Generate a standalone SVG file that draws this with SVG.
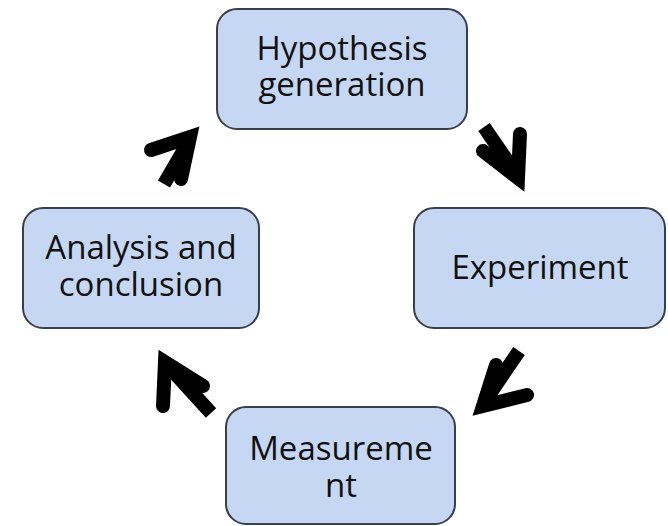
<svg xmlns="http://www.w3.org/2000/svg" width="668" height="526" viewBox="0 0 668 526">
<style>
.box{fill:#c6d7f3;stroke:#3a3f4c;stroke-width:2}
.t{font-family:"Open Sans","Noto Sans",sans-serif;font-size:33px;fill:#111;text-anchor:middle}
.shaft{fill:none;stroke:#000;stroke-width:14;stroke-linecap:butt}
.head{fill:none;stroke:#000;stroke-width:14;stroke-linecap:round;stroke-linejoin:miter;stroke-miterlimit:10}
</style>
<rect width="668" height="526" fill="#fff"/>
<g id="connectors">
<g id="a1"><path class="shaft" d="M164,184 L189,141"/><path class="head" d="M151,150 L190,137 L181,179"/></g>
<g id="a2"><path class="shaft" d="M484,127 L515,172"/><path class="head" d="M483,151 L518,178 L520,134"/></g>
<g id="a3"><path class="shaft" d="M519,351 L487,398"/><path class="head" d="M496,365 L483,406 L527,395"/></g>
<g id="a4"><path class="shaft" d="M211,413 L170,368"/><path class="head" d="M163,406 L165,362 L203,386"/></g>
</g>
<g id="hypothesis"><rect class="box" x="217" y="9" width="250" height="120" rx="20"/><text class="t" x="342" y="60">Hypothesis</text><text class="t" x="342" y="96">generation</text></g>
<g id="experiment"><rect class="box" x="414" y="208" width="251" height="120" rx="20"/><text class="t" x="540" y="279">Experiment</text></g>
<g id="analysis"><rect class="box" x="23" y="208" width="236" height="120" rx="20"/><text class="t" x="141" y="259">Analysis and</text><text class="t" x="141" y="296">conclusion</text></g>
<g id="measurement"><rect class="box" x="226" y="407" width="229" height="117" rx="20"/><text class="t" x="341" y="460">Measureme</text><text class="t" x="341" y="497">nt</text></g>
</svg>
